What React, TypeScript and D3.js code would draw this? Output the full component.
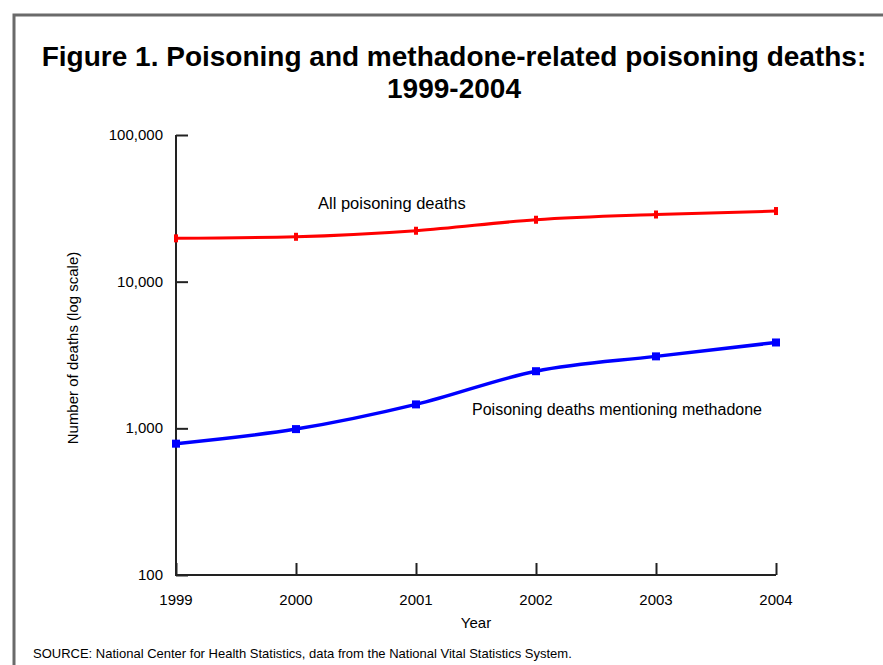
import React, { useRef, useEffect } from 'react'
import * as d3 from 'd3'

const years = [1999, 2000, 2001, 2002, 2003, 2004]
const allPoisoning = [19741, 20230, 22242, 26435, 28700, 30308]
const methadone = [786, 988, 1456, 2452, 3095, 3849]
const yTicks = [100, 1000, 10000, 100000]

const App = () => {
    const ref = useRef<SVGSVGElement>(null)
    useEffect(() => {
        const w = 883
        const h = 665
        const svg = d3.select(ref.current)
        svg.selectAll('*').remove()
        svg.attr('width', w).attr('height', h)
            .style('background', 'white')
            .style('font-family', '"Liberation Sans", Arial, sans-serif')

        // frame
        svg.append('path')
            .attr('d', `M14,${h} L14,15 L${w},15`)
            .attr('fill', 'none')
            .attr('stroke', '#6a6a6a')
            .attr('stroke-width', 3)

        // title
        svg.append('text')
            .attr('x', 454).attr('y', 66)
            .attr('text-anchor', 'middle')
            .style('font-size', '28px').style('font-weight', 'bold')
            .text('Figure 1. Poisoning and methadone-related poisoning deaths:')
        svg.append('text')
            .attr('x', 454).attr('y', 98)
            .attr('text-anchor', 'middle')
            .style('font-size', '28px').style('font-weight', 'bold')
            .text('1999-2004')

        const xScale = d3.scaleLinear()
            .domain([1999, 2004])
            .range([176, 776])
        const yScale = d3.scaleLog()
            .domain([100, 100000])
            .range([575, 135])

        // axes
        const xAxis = d3.axisTop(xScale)
            .tickValues(years)
            .tickSize(12)
            .tickFormat(() => '')
        const gx = svg.append('g')
            .attr('transform', 'translate(0,575)')
            .call(xAxis)
        gx.select('.domain').remove()
        gx.selectAll('line').attr('stroke', '#222').attr('stroke-width', 2)

        const yAxis = d3.axisRight(yScale)
            .tickValues(yTicks)
            .tickSize(12)
            .tickFormat(() => '')
        const gy = svg.append('g')
            .attr('transform', 'translate(176,0)')
            .call(yAxis)
        gy.select('.domain').remove()
        gy.selectAll('line').attr('stroke', '#222').attr('stroke-width', 2)

        svg.append('path')
            .attr('d', `M176,${yScale(100000)} L176,575 L776,575`)
            .attr('fill', 'none')
            .attr('stroke', '#222')
            .attr('stroke-width', 2)

        // tick labels
        svg.selectAll('.ylab')
            .data(yTicks)
            .join('text')
            .attr('x', 163)
            .attr('y', d => yScale(d) + 5)
            .attr('text-anchor', 'end')
            .style('font-size', '15px')
            .text(d => d3.format(',')(d))

        svg.selectAll('.xlab')
            .data(years)
            .join('text')
            .attr('x', d => xScale(d))
            .attr('y', 605)
            .attr('text-anchor', 'middle')
            .style('font-size', '15px')
            .text(d => d)

        svg.append('text')
            .attr('x', 476).attr('y', 628)
            .attr('text-anchor', 'middle')
            .style('font-size', '15px')
            .text('Year')

        svg.append('text')
            .attr('transform', 'translate(78,348) rotate(-90)')
            .attr('text-anchor', 'middle')
            .style('font-size', '15px')
            .text('Number of deaths (log scale)')

        svg.append('text')
            .attr('x', 33).attr('y', 658)
            .style('font-size', '13px')
            .text('SOURCE: National Center for Health Statistics, data from the National Vital Statistics System.')

        // lines
        const line = d3.line<number>()
            .x((d, i) => xScale(years[i]))
            .y(d => yScale(d))
            .curve(d3.curveMonotoneX)

        svg.append('path')
            .datum(allPoisoning)
            .attr('d', line)
            .attr('fill', 'none')
            .attr('stroke', '#ff0000')
            .attr('stroke-width', 3)
        svg.selectAll('.redpt')
            .data(allPoisoning)
            .join('rect')
            .attr('x', (d, i) => xScale(years[i]) - 2)
            .attr('y', d => yScale(d) - 4)
            .attr('width', 4).attr('height', 8)
            .attr('fill', '#ff0000')

        svg.append('path')
            .datum(methadone)
            .attr('d', line)
            .attr('fill', 'none')
            .attr('stroke', '#0000ff')
            .attr('stroke-width', 3.5)
        svg.selectAll('.bluept')
            .data(methadone)
            .join('rect')
            .attr('x', (d, i) => xScale(years[i]) - 4)
            .attr('y', d => yScale(d) - 4)
            .attr('width', 8).attr('height', 8)
            .attr('fill', '#0000ff')

        // annotations
        svg.append('text')
            .attr('x', 318).attr('y', 209)
            .style('font-size', '16.5px')
            .text('All poisoning deaths')
        svg.append('text')
            .attr('x', 472).attr('y', 415)
            .style('font-size', '16px')
            .text('Poisoning deaths mentioning methadone')
    }, [])
    return <svg ref={ref} style={{ position: 'absolute', left: 0, top: 0 }}></svg>
}

export default App
